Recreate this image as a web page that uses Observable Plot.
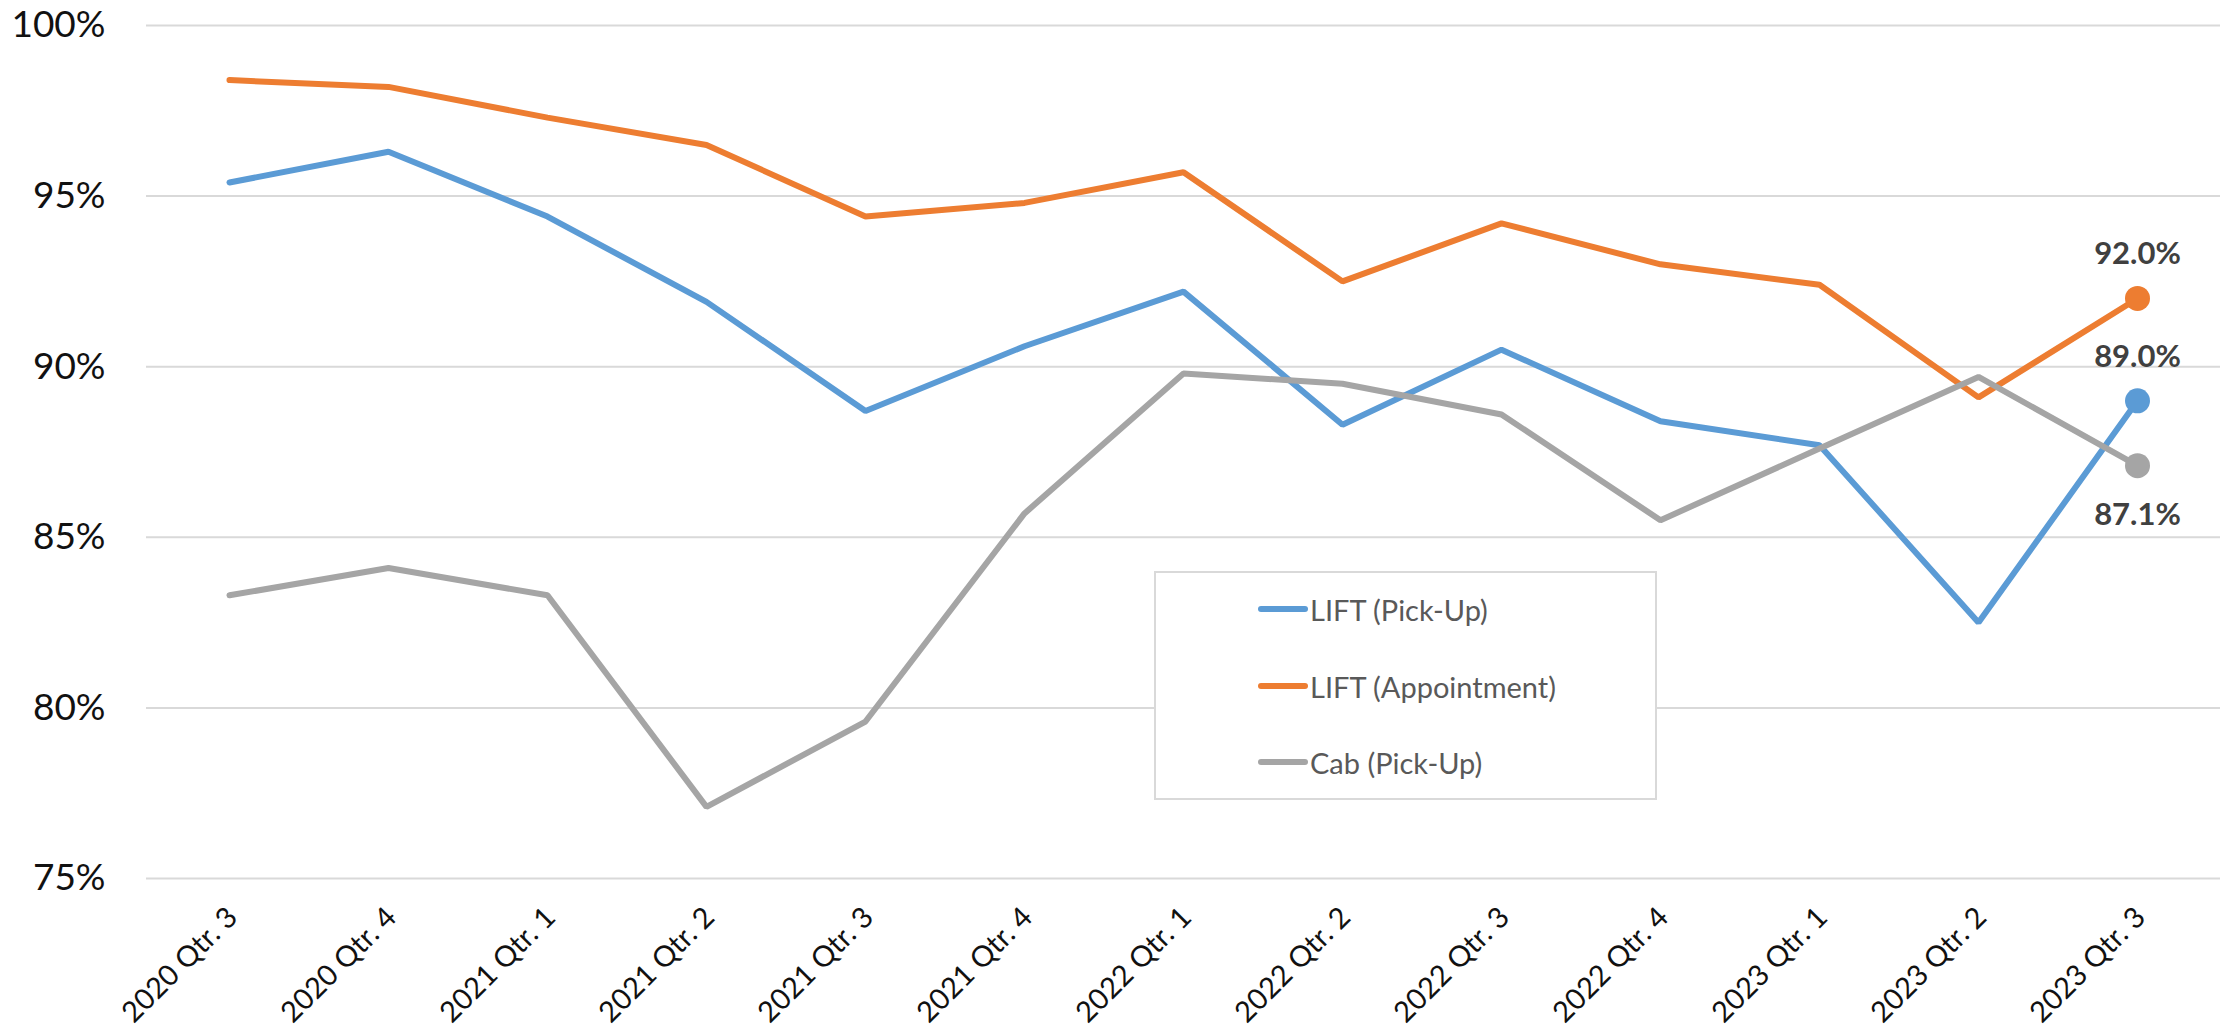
<!DOCTYPE html>
<html><head><meta charset="utf-8">
<script src="https://cdn.jsdelivr.net/npm/d3@7"></script>
<script src="https://cdn.jsdelivr.net/npm/@observablehq/plot@0.6"></script>
<style>
body{margin:0;background:#fff;}
#wrap{position:relative;width:2221px;height:1029px;font-family:Lato, sans-serif;}
.legend{position:absolute;left:1154px;top:571px;width:499px;height:225px;border:2px solid #d9d9d9;background:#fff;}
.item{position:absolute;left:102px;height:32px;display:flex;align-items:center;font-size:29px;color:#595959;white-space:nowrap;}
.sw{width:50px;height:6px;border-radius:3px;margin-right:2px;flex:none;}
</style></head><body><div id="wrap"></div>
<script>
const quarters = ["2020 Qtr. 3","2020 Qtr. 4","2021 Qtr. 1","2021 Qtr. 2","2021 Qtr. 3","2021 Qtr. 4","2022 Qtr. 1","2022 Qtr. 2","2022 Qtr. 3","2022 Qtr. 4","2023 Qtr. 1","2023 Qtr. 2","2023 Qtr. 3"];
const liftPickUp = [95.4, 96.3, 94.4, 91.9, 88.7, 90.6, 92.2, 88.3, 90.5, 88.4, 87.7, 82.5, 89.0];
const liftAppointment = [98.4, 98.2, 97.3, 96.5, 94.4, 94.8, 95.7, 92.5, 94.2, 93.0, 92.4, 89.1, 92.0];
const cabPickUp = [83.3, 84.1, 83.3, 77.1, 79.6, 85.7, 89.8, 89.5, 88.6, 85.5, 87.6, 89.7, 87.1];
const seriesNames = ["LIFT (Pick-Up)", "LIFT (Appointment)", "Cab (Pick-Up)"];
const seriesColors = ["#5B9BD5", "#ED7D31", "#A5A5A5"];
const yTicks = [75, 80, 85, 90, 95, 100];

const seriesValues = [liftPickUp, liftAppointment, cabPickUp];
const rows = [];
seriesNames.forEach((name, i) => {
  quarters.forEach((q, j) => rows.push({series: name, q, v: seriesValues[i][j]}));
});
const last = rows.filter(d => d.q === quarters[quarters.length - 1]);
const lastAbove = last.filter(d => d.series !== "Cab (Pick-Up)");
const lastBelow = last.filter(d => d.series === "Cab (Pick-Up)");

const chart = Plot.plot({
  width: 2221,
  height: 1029,
  marginLeft: 146,
  marginRight: 1,
  marginTop: 25,
  marginBottom: 151,
  style: {fontFamily: "Lato, sans-serif", background: "#fff", color: "#000"},
  x: {type: "point", domain: quarters, padding: 0.5},
  y: {domain: [75, 100]},
  color: {domain: seriesNames, range: seriesColors},
  marks: [
    Plot.ruleY(yTicks, {stroke: "#d9d9d9", strokeWidth: 2}),
    Plot.axisY({ticks: yTicks, tickSize: 0, tickPadding: 41, tickFormat: d => d + "%", fontSize: 37, fill: "#111", label: null}),
    Plot.axisX({tickSize: 0, tickRotate: -45, tickPadding: 34, dx: 3, fontSize: 29, fill: "#111", label: null}),
    Plot.line(rows, {x: "q", y: "v", z: "series", stroke: "series", strokeWidth: 6, strokeLinejoin: "miter", strokeLinecap: "round"}),
    Plot.dot(last, {x: "q", y: "v", fill: "series", r: 12.5}),
    Plot.text(lastAbove, {x: "q", y: "v", text: d => d.v.toFixed(1) + "%", dy: -34, lineAnchor: "bottom", fontSize: 31, fontWeight: "bold", fill: "#404040"}),
    Plot.text(lastBelow, {x: "q", y: "v", text: d => d.v.toFixed(1) + "%", dy: 59, lineAnchor: "bottom", fontSize: 31, fontWeight: "bold", fill: "#404040"})
  ]
});
const wrap = document.getElementById("wrap");
wrap.appendChild(chart);

const legend = document.createElement("div");
legend.className = "legend";
const tops = [20, 97, 173];
seriesNames.forEach((name, i) => {
  const item = document.createElement("div");
  item.className = "item";
  item.style.top = tops[i] + "px";
  const sw = document.createElement("span");
  sw.className = "sw";
  sw.style.background = seriesColors[i];
  const t = document.createElement("span");
  t.textContent = name;
  item.appendChild(sw);
  item.appendChild(t);
  legend.appendChild(item);
});
wrap.appendChild(legend);
</script>
</body></html>
